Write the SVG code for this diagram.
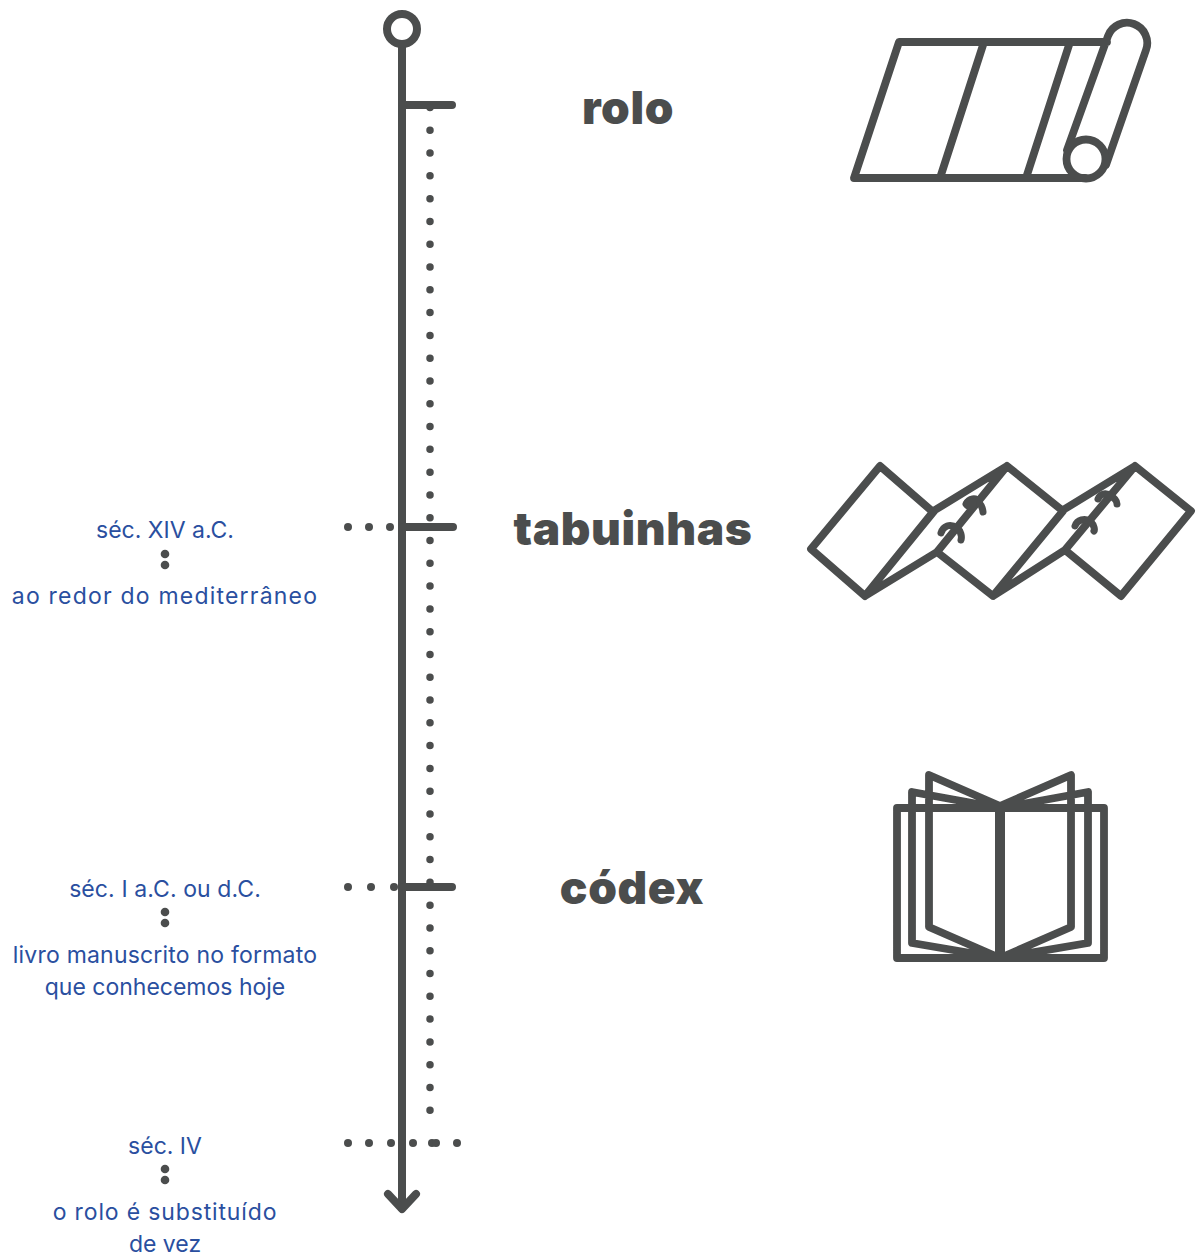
<svg xmlns="http://www.w3.org/2000/svg" width="1197" height="1256" viewBox="0 0 1197 1256">
<style>
.l{fill:none;stroke:#4b4d4d;stroke-width:8;stroke-linecap:round;stroke-linejoin:round}
.i{fill:none;stroke:#4b4d4d;stroke-width:7.800;stroke-linecap:round;stroke-linejoin:round}
.k{fill:none;stroke:#4b4d4d;stroke-width:7;stroke-linecap:round;stroke-linejoin:round}
.d{fill:none;stroke:#4b4d4d;stroke-width:7.500;stroke-linecap:round;stroke-dasharray:0 22.79}
.h{font-family:"Inter","Liberation Sans",sans-serif;font-weight:900;font-size:46px;fill:#4b4d4d;text-anchor:middle;letter-spacing:.6px}
.t{font-family:"Inter","Liberation Sans",sans-serif;font-size:23px;fill:#2a4f9f;text-anchor:middle}
.c{fill:#4b4d4d}
</style>
<g id="connectors">
<path class="l" d="M402 45V1208"/>
<path class="l" d="M388 1194L402 1209L416 1194"/>
<circle class="l" cx="402" cy="29" r="15"/>
<path class="l" d="M403 105H452M403 527H453M403 887H452"/>
<path class="d" d="M430 107.500V1111"/>
<g class="c">
<circle cx="348" cy="527" r="4"/><circle cx="369" cy="527" r="4"/><circle cx="390" cy="527" r="4"/>
<circle cx="348" cy="887" r="4"/><circle cx="371" cy="887" r="4"/><circle cx="394" cy="887" r="4"/>
<circle cx="348" cy="1143" r="4"/><circle cx="369" cy="1143" r="4"/><circle cx="391" cy="1143" r="4"/><circle cx="413" cy="1143" r="4"/><circle cx="432" cy="1143" r="4"/><circle cx="436" cy="1143" r="4"/><circle cx="457" cy="1143" r="4"/>
</g>
</g>
<g id="rolo">
<text class="h" x="628" y="124">rolo</text>
<path class="i" d="M1085 178H854L899 42H1107M984 42L940 178M1070 42L1026 178M1067 150L1108 36A20 20 0 0 1 1146 50L1106 165"/>
<circle class="i" cx="1086" cy="159" r="19.500"/>
</g>
<g id="tabuinhas">
<text class="h" x="633" y="545">tabuinhas</text>
<path class="i" d="M880 466L811 549L865 596L933 512ZM865 596L937 552L1007 466L935 510L865 596ZM937 552L993 596L1063 511L1007 466M993 596L1065 550L1135 466L1063 510M1065 550L1121 596L1191 511L1135 466"/>
<path class="k" d="M941 533C943 526 950 523 957 528C961 531 962 536 961 540M966 504C969 498 976 497 979 502M970 503C976 498 982 503 983 512M1075 526C1077 520 1085 517 1091 522C1094 525 1095 530 1094 531M1098 499C1100 494 1106 492 1110 496C1114 497 1117 501 1117 504"/>
<ellipse class="c" cx="970" cy="504" rx="7" ry="6"/>
</g>
<g id="codex">
<text class="h" x="632" y="904">códex</text>
<path class="i" d="M897 808H1104V958H897ZM912 792L1000 808L1088 792V943L1000 958L912 943ZM929 775L1000 806L1071 775V927L1000 958L929 927Z"/>
<path d="M1000 806V958" class="l" style="stroke-width:10;stroke-linecap:butt"/>
</g>
<g id="sec-xiv">
<text class="t" x="165" y="538">séc. XIV a.C.</text>
<circle class="c" cx="165" cy="554" r="4.300"/><circle class="c" cx="165" cy="565" r="4.300"/>
<text class="t" x="165" y="604" style="letter-spacing:1.200px">ao redor do mediterrâneo</text>
</g>
<g id="sec-i">
<text class="t" x="165" y="897" style="letter-spacing:.1px">séc. I a.C. ou d.C.</text>
<circle class="c" cx="165" cy="912" r="4.300"/><circle class="c" cx="165" cy="923" r="4.300"/>
<text class="t" x="165" y="963" style="letter-spacing:.2px">livro manuscrito no formato</text>
<text class="t" x="165" y="995">que conhecemos hoje</text>
</g>
<g id="sec-iv">
<text class="t" x="165" y="1154">séc. IV</text>
<circle class="c" cx="165" cy="1169" r="4.300"/><circle class="c" cx="165" cy="1180" r="4.300"/>
<text class="t" x="165" y="1220" style="letter-spacing:.85px">o rolo é substituído</text>
<text class="t" x="165" y="1252">de vez</text>
</g>
</svg>
